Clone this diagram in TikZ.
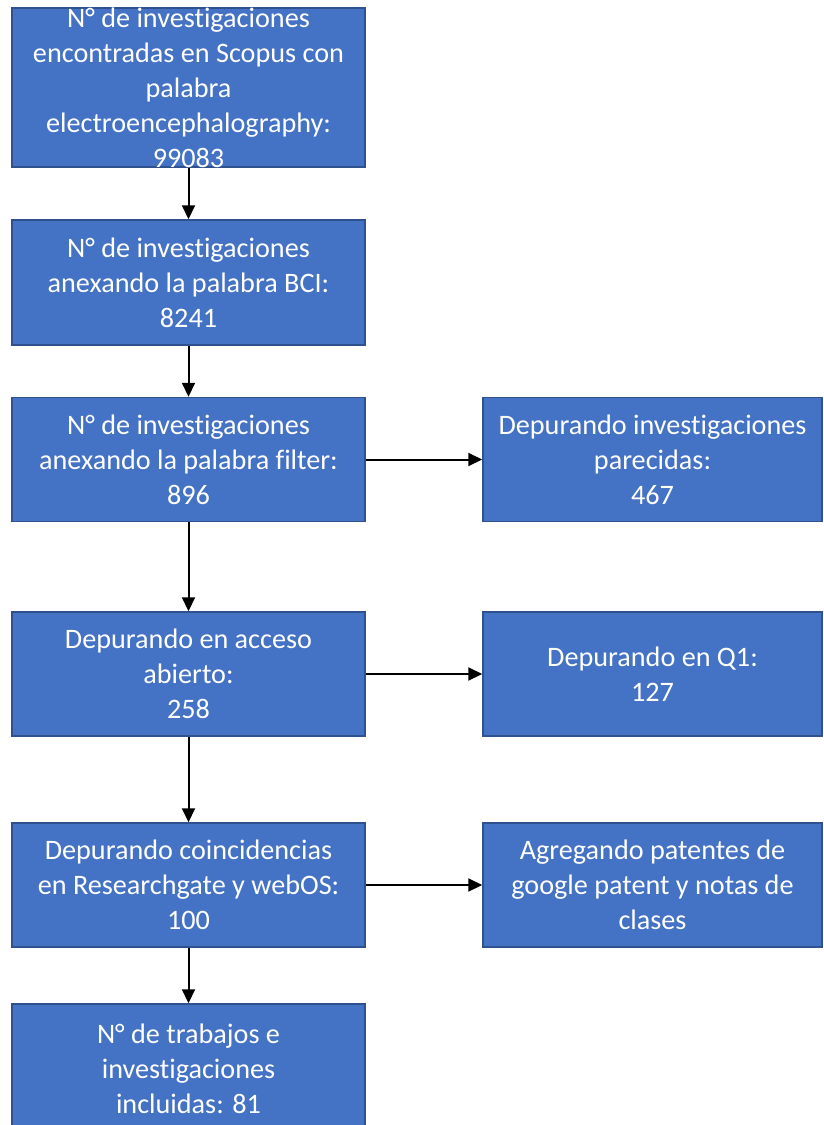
\documentclass[tikz,border=0pt]{standalone}
\usepackage{fontspec}
\setmainfont{Carlito}[Ligatures=NoCommon]
\usetikzlibrary{arrows.meta, positioning}
\definecolor{boxblue}{HTML}{4472C4}
\definecolor{boxedge}{HTML}{2F528F}

\begin{document}
\begin{tikzpicture}[
    x=1pt, y=-1pt,
    stage/.style={draw=boxedge, line width=1.5pt, fill=boxblue, text=white, align=center,
        minimum width=353pt, minimum height=124pt, inner xsep=2pt, inner ysep=0pt,
        font=\fontsize{28.2}{35}\selectfont},
    filtro/.style={stage, minimum width=339pt},
    arrow/.style={-{Triangle[length=14pt, width=13pt]}, line width=2pt},
]
\useasboundingbox (0,0) rectangle (823,1125);

% Main column
\node[stage, minimum height=159pt, inner ysep=-9pt] (scopus) at (188.5, 87.5) {N° de investigaciones\\encontradas en Scopus con\\palabra\\electroencephalography:\\99083};
\node[stage, minimum height=125pt] (bci) at (188.5, 282.5) {N° de investigaciones\\anexando la palabra BCI:\\8241};
\node[stage] (filter) at (188.5, 459.5) {N° de investigaciones\\anexando la palabra filter:\\896};
\node[stage] (acceso) at (188.5, 674) {Depurando en acceso\\abierto:\\258};
\node[stage] (coinc) at (188.5, 885) {Depurando coincidencias\\en Researchgate y webOS:\\100};
\node[stage, minimum height=130pt] (final) at (188.5, 1069) {N° de trabajos e\\investigaciones\\incluidas: 81};

% Side column
\node[filtro] (parecidas) at (652.5, 459.5) {Depurando investigaciones\\parecidas:\\467};
\node[filtro] (q1) at (652.5, 674) {Depurando en Q1:\\127};
\node[filtro] (patentes) at (652.5, 885) {Agregando patentes de\\google patent y notas de\\clases};

% Arrows
\draw[arrow] (scopus) -- (bci);
\draw[arrow] (bci) -- (filter);
\draw[arrow] (filter) -- (acceso);
\draw[arrow] (acceso) -- (coinc);
\draw[arrow] (coinc) -- (final);
\draw[arrow] (filter) -- (parecidas);
\draw[arrow] (acceso) -- (q1);
\draw[arrow] (coinc) -- (patentes);

\end{tikzpicture}
\end{document}
